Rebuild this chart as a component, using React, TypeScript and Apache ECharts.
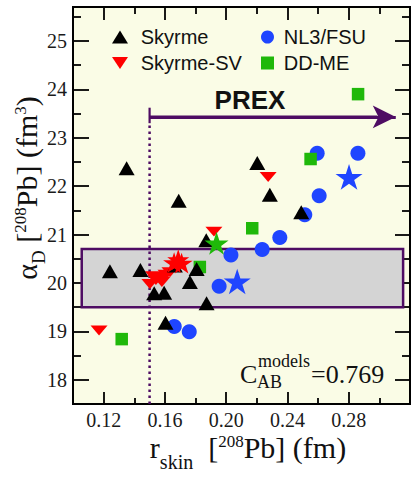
import React, { useEffect, useRef } from "react";
import * as echarts from "echarts";

// ---- data (r_skin [fm], alpha_D [fm^3]) ----
const skyrme: [number, number][] = [
  [0.135, 22.37], [0.2203, 22.48], [0.2285, 21.82], [0.169, 21.7], [0.249, 21.46],
  [0.187, 20.88], [0.1241, 20.24], [0.144, 20.27], [0.1665, 20.36], [0.1807, 20.29],
  [0.1763, 20.02], [0.153, 19.79], [0.1595, 19.8], [0.1872, 19.58], [0.1604, 19.18],
];
const skyrmeSV: [number, number][] = [
  [0.117, 19.02], [0.2274, 22.19], [0.192, 21.06], [0.1502, 19.98], [0.1541, 20.06],
  [0.1574, 20.12], [0.1607, 20.17], [0.1633, 20.22], [0.1525, 20.14], [0.158, 20.02],
];
const nl3fsu: [number, number][] = [
  [0.2594, 22.68], [0.286, 22.68], [0.2607, 21.8], [0.2513, 21.41], [0.235, 20.94],
  [0.2235, 20.69], [0.2031, 20.58], [0.1954, 19.93], [0.1661, 19.1], [0.1759, 18.99],
];
const ddme: [number, number][] = [
  [0.2861, 23.9], [0.2551, 22.56], [0.217, 21.13], [0.1828, 20.33], [0.1318, 18.84],
];
const svStars: [number, number][] = [[0.1687, 20.48], [0.1709, 20.41], [0.166, 20.42]];
const nl3Stars: [number, number][] = [[0.2072, 20.03], [0.2802, 22.19]];
const ddmeStars: [number, number][] = [[0.1937, 20.82]];

const xMajor = [0.12, 0.16, 0.2, 0.24, 0.28];
const xMinor = [0.14, 0.18, 0.22, 0.26, 0.3];
const yMajor = [18, 19, 20, 21, 22, 23, 24, 25];
const yMinor = [18.5, 19.5, 20.5, 21.5, 22.5, 23.5, 24.5, 25.5];
const xRange = [0.1, 0.32];
const yRange = [17.5, 25.7];

// RCNP band and PREX lower bound
const rcnpX = [0.1057, 0.3155];
const rcnpY = [19.5, 20.7];
const prexLow = 0.15;
const prexArrowEnd = 0.3107;
const prexY = 23.43;
const prexCap = [23.3, 23.62];

const PURPLE = "#4e0c63";
const SERIF = "'Liberation Serif', 'Times New Roman', serif";
const SANS = "'Liberation Sans', Arial, Helvetica, sans-serif";
const STAR = "path://M50,0 L61.2,34.5 L97.6,34.5 L68.2,55.9 L79.4,90.5 L50,69.1 L20.6,90.5 L31.8,55.9 L2.4,34.5 L38.8,34.5 Z";
const DOWN_TRI = "path://M0,0 L20,0 L10,15.3 Z";

export default function App() {
  const ref = useRef<HTMLDivElement>(null);
  useEffect(() => {
    if (!ref.current) return;
    const chart = echarts.init(ref.current, undefined, { renderer: "svg" });

    const xAxisBase = (pos: string, vals: number[], len: number, labels: boolean) => ({
      type: "value",
      min: xRange[0],
      max: xRange[1],
      position: pos,
      axisLine: { show: false, onZero: false },
      splitLine: { show: false },
      axisTick: { show: true, inside: true, length: len, customValues: vals, lineStyle: { color: "#000", width: 1.8 } },
      axisLabel: labels
        ? { show: true, customValues: vals, formatter: (v: number) => v.toFixed(2), fontFamily: SERIF, fontSize: 20, color: "#1a1a1a", margin: 6 }
        : { show: false },
    });
    const yAxisBase = (pos: string, vals: number[], len: number, labels: boolean) => ({
      type: "value",
      min: yRange[0],
      max: yRange[1],
      position: pos,
      axisLine: { show: false, onZero: false },
      splitLine: { show: false },
      axisTick: { show: true, inside: true, length: len, customValues: vals, lineStyle: { color: "#000", width: 1.8 } },
      axisLabel: labels
        ? { show: true, customValues: vals, formatter: (v: number) => String(v), fontFamily: SERIF, fontSize: 20, color: "#1a1a1a", margin: 6 }
        : { show: false },
    });

    const pointSeries = (name: string, data: [number, number][], symbol: string, size: any, color: string) => ({
      name,
      type: "scatter",
      data,
      symbol,
      symbolSize: size,
      symbolKeepAspect: true,
      itemStyle: { color, opacity: 1 },
      z: 3,
      silent: true,
    });

    const legendText = (pad: number) => ({
      fontFamily: SANS, fontSize: 20, color: "#111", padding: [0, 0, 0, pad],
    });

    chart.setOption({
      animation: false,
      grid: {
        left: 73, right: 5, top: 7, bottom: 75,
        show: true, backgroundColor: "#fafce6", borderColor: "#000", borderWidth: 2,
      },
      legend: [
        {
          data: ["Skyrme", "Skyrme-SV"], orient: "vertical", left: 107, top: 22,
          itemWidth: 16, itemHeight: 13, itemGap: 6,
          textStyle: legendText(7.7),
          selectedMode: false,
        },
        {
          data: ["NL3/FSU", "DD-ME"], orient: "vertical", left: 256, top: 22,
          itemWidth: 13, itemHeight: 13, itemGap: 6,
          textStyle: legendText(4.8),
          selectedMode: false,
        },
      ],
      xAxis: [
        xAxisBase("bottom", xMajor, 12, true),
        xAxisBase("bottom", xMinor, 6, false),
        xAxisBase("top", xMajor, 13, false),
        xAxisBase("top", xMinor, 7, false),
      ],
      yAxis: [
        yAxisBase("left", yMajor, 16, true),
        yAxisBase("left", yMinor, 8, false),
        yAxisBase("right", yMajor, 15, false),
        yAxisBase("right", yMinor, 8, false),
      ],
      series: [
        {
          name: "rcnp",
          type: "scatter",
          data: [[0.2, 20]],
          symbolSize: 0,
          silent: true,
          z: 1,
          markArea: {
            silent: true,
            itemStyle: { color: "#d4d4d4", borderColor: PURPLE, borderWidth: 2.5 },
            data: [[{ coord: [rcnpX[0], rcnpY[1]] }, { coord: [rcnpX[1], rcnpY[0]] }]],
          },
        },
        {
          name: "prexDots",
          type: "line",
          data: [[prexLow, yRange[0]], [prexLow, prexCap[0]]],
          symbol: "none",
          silent: true,
          z: 2,
          lineStyle: { color: PURPLE, width: 2.5, type: [2.5, 3.5] },
        },
        {
          name: "prexCap",
          type: "line",
          data: [[prexLow, prexCap[0]], [prexLow, prexCap[1]]],
          symbol: "none",
          silent: true,
          z: 2,
          lineStyle: { color: PURPLE, width: 2.2 },
        },
        {
          name: "prexArrow",
          type: "line",
          data: [[prexLow, prexY], [prexArrowEnd - 0.012, prexY]],
          symbol: "none",
          silent: true,
          z: 2,
          lineStyle: { color: PURPLE, width: 3 },
          markLine: {
            silent: true,
            symbol: ["none", "arrow"],
            label: { show: false },
            lineStyle: { color: PURPLE, width: 3, type: "solid" },
            emphasis: { disabled: true },
            data: [[
              { coord: [prexLow, prexY], symbol: "none" },
              { coord: [prexArrowEnd, prexY], symbol: "arrow", symbolSize: [17, 23] },
            ]],
          },
        },
        pointSeries("NL3/FSU", nl3fsu, "circle", 15, "#1f45ff"),
        pointSeries("DD-ME", ddme, "rect", 12.5, "#1fb80a"),
        pointSeries("Skyrme-SV", skyrmeSV, DOWN_TRI, [17, 13], "#ff0000"),
        pointSeries("Skyrme", skyrme, "triangle", [16, 14], "#000000"),
        pointSeries("svStar", svStars, STAR, 22, "#ff0000"),
        pointSeries("nl3Star", nl3Stars, STAR, 27, "#1f45ff"),
        pointSeries("ddmeStar", ddmeStars, STAR, 24, "#1fb80a"),
      ],
      graphic: [
        {
          type: "text", x: 250, y: 100, silent: true,
          style: { text: "PREX", font: `bold 26px ${SANS}`, fill: "#111", align: "center", verticalAlign: "middle" },
        },
        {
          type: "text", x: 357, y: 278, silent: true,
          style: { text: "RCNP", font: `bold 27px ${SANS}`, fill: "#111", align: "center", verticalAlign: "middle" },
        },
        {
          type: "text", x: 240, y: 374, silent: true,
          style: { text: "C", font: `26px ${SERIF}`, fill: "#111", align: "left", verticalAlign: "middle" },
        },
        {
          type: "text", x: 258, y: 360.6, silent: true,
          style: { text: "models", font: `18px ${SERIF}`, fill: "#111", align: "left", verticalAlign: "middle" },
        },
        {
          type: "text", x: 257, y: 382.2, silent: true,
          style: { text: "AB", font: `18px ${SERIF}`, fill: "#111", align: "left", verticalAlign: "middle" },
        },
        {
          type: "text", x: 311, y: 374.2, silent: true,
          style: { text: "=0.769", font: `26px ${SERIF}`, fill: "#111", align: "left", verticalAlign: "middle" },
        },
        {
          type: "text", x: 248, y: 432, silent: true,
          style: {
            text: "{b|r}{sub|skin}{b|  [}{sup|208}{b|Pb] (fm)}",
            align: "center", verticalAlign: "top", fill: "#111",
            rich: {
              b: { fontFamily: SERIF, fontSize: 30, lineHeight: 30, verticalAlign: "top", fill: "#111" },
              sub: { fontFamily: SERIF, fontSize: 20, lineHeight: 20, verticalAlign: "top", padding: [20, 0, 0, 0], fill: "#111" },
              sup: { fontFamily: SERIF, fontSize: 17, lineHeight: 17, verticalAlign: "top", padding: [1, 0, 0, 0], fill: "#111" },
            },
          },
        },
        {
          type: "text", x: 11, y: 188, rotation: Math.PI / 2, silent: true,
          style: {
            text: "{b|α}{sub|D}{b| [}{sup|208}{b|Pb] (fm}{sup|3}{b|)}",
            align: "center", verticalAlign: "top", fill: "#111",
            rich: {
              b: { fontFamily: SERIF, fontSize: 30, lineHeight: 30, verticalAlign: "top", fill: "#111" },
              sub: { fontFamily: SERIF, fontSize: 19, lineHeight: 19, verticalAlign: "top", padding: [18, 0, 0, 0], fill: "#111" },
              sup: { fontFamily: SERIF, fontSize: 17, lineHeight: 17, verticalAlign: "top", padding: [1, 0, 0, 0], fill: "#111" },
            },
          },
        },
      ],
    });
    return () => chart.dispose();
  }, []);
  return <div ref={ref} style={{ position: "fixed", left: 0, top: 0, width: 415, height: 479, background: "#fff" }} />;
}
